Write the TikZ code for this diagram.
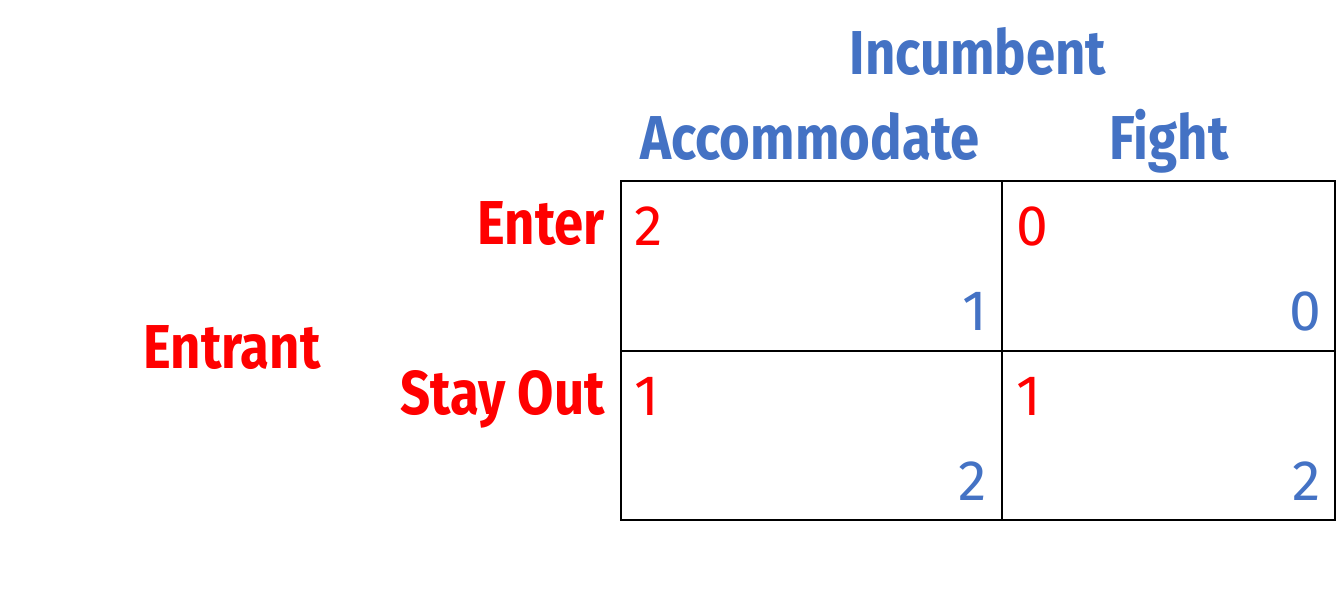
\documentclass[tikz,border=0pt]{standalone}
\usepackage{fontspec}
\setmainfont{Fira Sans}
\newfontfamily\headfont[FakeStretch=0.85]{Fira Sans Bold}
\definecolor{incblue}{HTML}{4472C4}
\definecolor{entred}{HTML}{FF0000}
\begin{document}
\begin{tikzpicture}[x=1pt,y=-1pt,
  head/.style={inner sep=0pt,font=\headfont\fontsize{62}{62}\selectfont},
  pay/.style={inner sep=0pt,font=\fontsize{57}{57}\selectfont},
  gridline/.style={line width=2pt,black}]
\useasboundingbox (0,0) rectangle (1337,606);
% grid
\draw[gridline] (621,181) rectangle (1335,520);
\draw[gridline] (1002,181) -- (1002,520);
\draw[gridline] (621,351) -- (1335,351);
% headers
\node[head,text=incblue,anchor=base] (inc) at (978,74) {Incumbent};
\node[head,text=incblue,anchor=base] (acc) at (810,159) {Accommodate};
\node[head,text=incblue,anchor=base] (fight) at (1169,159) {Fight};
\node[head,text=entred,anchor=base east] (enter) at (605,244) {Enter};
\node[head,text=entred,anchor=base east] (stay) at (605,414) {Stay Out};
\node[head,text=entred,anchor=base] (ent) at (232,368) {Entrant};
% payoffs
\node[pay,text=entred,anchor=base west] (p11a) at (634,245) {2};
\node[pay,text=incblue,anchor=base east] (p11b) at (987,330) {1};
\node[pay,text=entred,anchor=base west] (p12a) at (1016,245) {0};
\node[pay,text=incblue,anchor=base east] (p12b) at (1321,330) {0};
\node[pay,text=entred,anchor=base west] (p21a) at (634,415) {1};
\node[pay,text=incblue,anchor=base east] (p21b) at (987,500) {2};
\node[pay,text=entred,anchor=base west] (p22a) at (1016,415) {1};
\node[pay,text=incblue,anchor=base east] (p22b) at (1321,500) {2};
\end{tikzpicture}
\end{document}
